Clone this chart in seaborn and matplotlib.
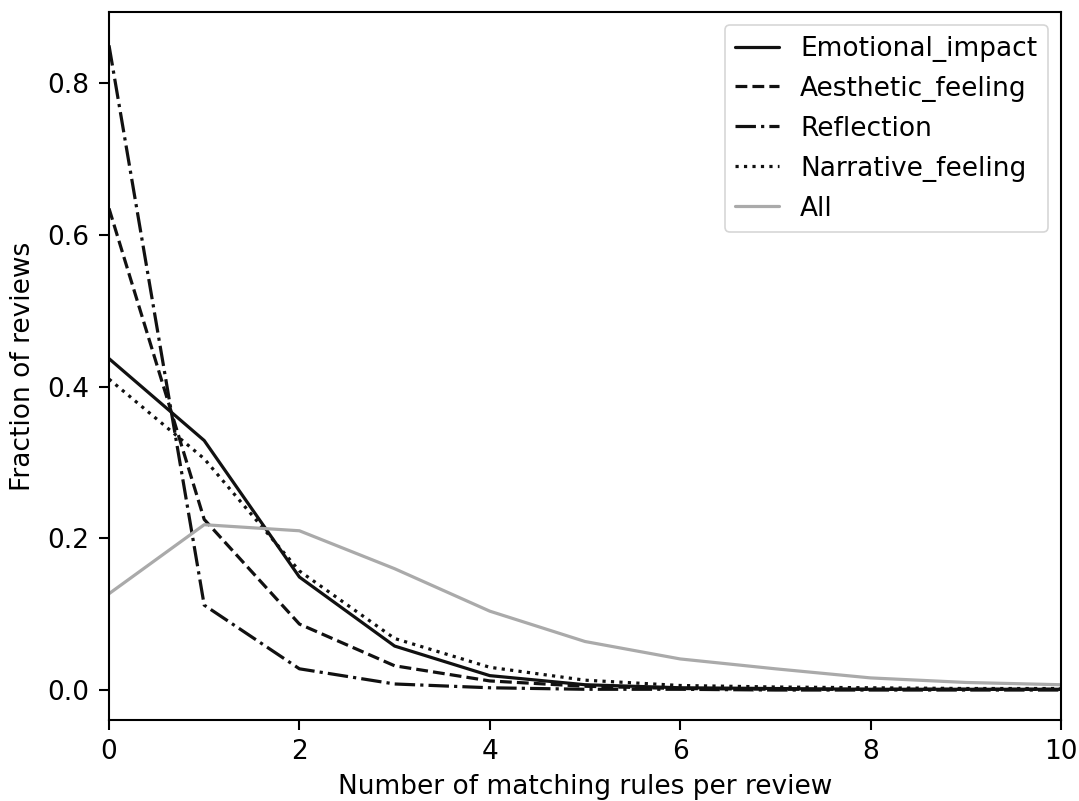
import matplotlib
matplotlib.use("Agg")
import matplotlib.pyplot as plt
import seaborn as sns
import pandas as pd

x_vals = [0, 1, 2, 3, 4, 5, 6, 7, 8, 9, 10]
emotional_impact = [0.437, 0.329, 0.149, 0.058, 0.019, 0.007, 0.003, 0.002, 0.001, 0.001, 0.001]
aesthetic_feeling = [0.635, 0.225, 0.087, 0.032, 0.012, 0.005, 0.002, 0.001, 0.001, 0.001, 0.001]
reflection = [0.850, 0.112, 0.028, 0.008, 0.003, 0.001, 0.001, 0.000, 0.000, 0.000, 0.000]
narrative_feeling = [0.410, 0.305, 0.157, 0.068, 0.030, 0.013, 0.006, 0.004, 0.003, 0.002, 0.002]
all_reviews = [0.127, 0.218, 0.210, 0.160, 0.104, 0.064, 0.041, 0.028, 0.016, 0.010, 0.007]

series_names = ["Emotional_impact", "Aesthetic_feeling", "Reflection", "Narrative_feeling", "All"]
series_values = [emotional_impact, aesthetic_feeling, reflection, narrative_feeling, all_reviews]
styles = {
    "Emotional_impact": ("#111111", "-"),
    "Aesthetic_feeling": ("#111111", "--"),
    "Reflection": ("#111111", "-."),
    "Narrative_feeling": ("#111111", ":"),
    "All": ("#aaaaaa", "-"),
}

sns.set_style("ticks")
plt.rcParams["font.family"] = ["DejaVu Sans"]
plt.rcParams["text.color"] = "black"
plt.rcParams["axes.labelcolor"] = "black"

fig, ax = plt.subplots(figsize=(10.79, 8.01), dpi=100)
fig.subplots_adjust(left=109/1079, right=1061/1079, top=1-12/801, bottom=1-720/801)

for name, vals in zip(series_names, series_values):
    df = pd.DataFrame({"x": x_vals, "y": vals})
    c, ls = styles[name]
    sns.lineplot(data=df, x="x", y="y", ax=ax, color=c, linestyle=ls, linewidth=2.3, label=name)

ax.set_xlim(0, 10)
ax.set_ylim(-0.0395, 0.894)
ax.set_xticks([0, 2, 4, 6, 8, 10])
ax.set_yticks([0.0, 0.2, 0.4, 0.6, 0.8])
ax.set_xlabel("Number of matching rules per review", fontsize=19, color="black", labelpad=6)
ax.set_ylabel("Fraction of reviews", fontsize=19, color="black", labelpad=8)
ax.tick_params(labelsize=19, direction="out", length=7, width=1.5, pad=7, colors="black")
for sp in ax.spines.values():
    sp.set_visible(True)
    sp.set_linewidth(1.5)
    sp.set_color("black")

leg = ax.legend(loc="upper right", fontsize=19, frameon=True, fancybox=True,
                handlelength=1.65, handletextpad=0.8, borderpad=0.4, labelspacing=0.53,
                borderaxespad=0.5)
leg.get_frame().set_edgecolor("#cccccc")
leg.get_frame().set_linewidth(1.2)
for t in leg.get_texts():
    t.set_color("black")

fig.savefig("out.png", dpi=100)
